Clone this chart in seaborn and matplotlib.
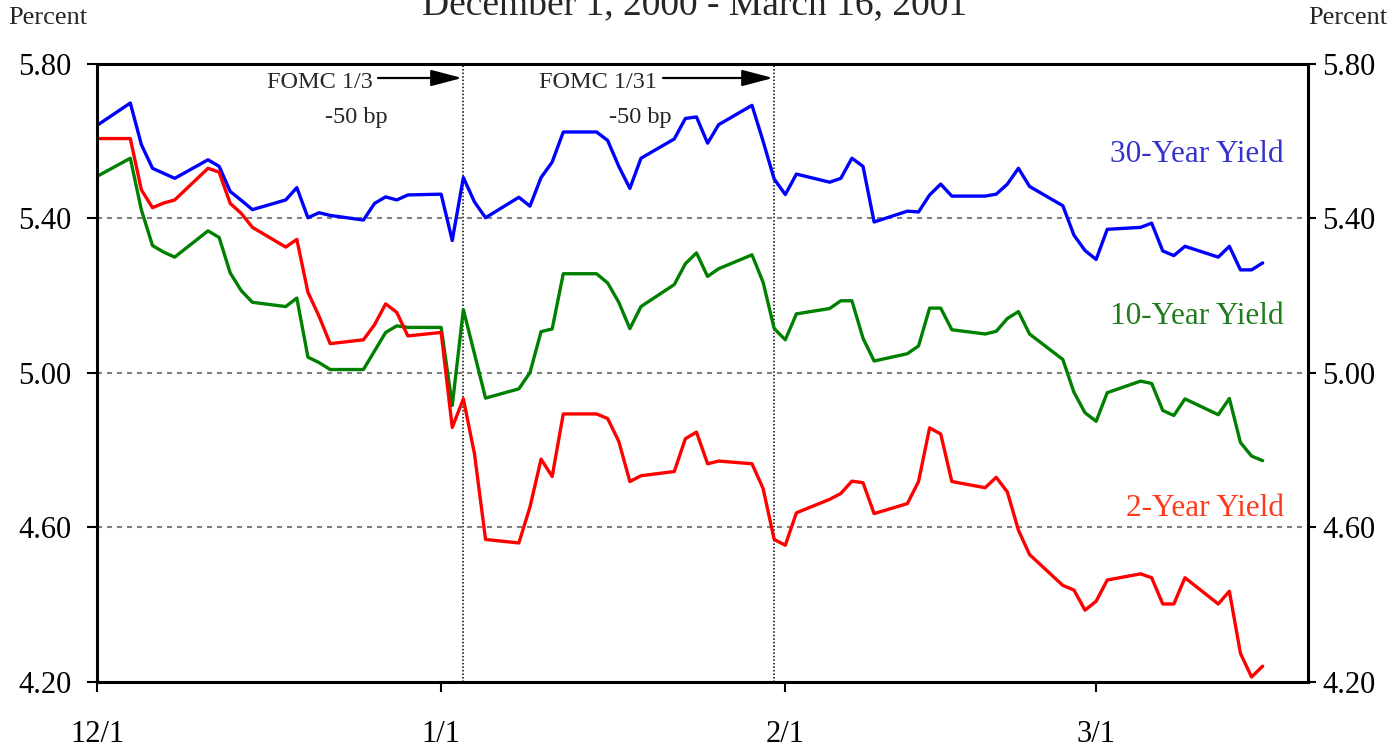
import numpy as np
import pandas as pd
import matplotlib
matplotlib.use("Agg")
import matplotlib.pyplot as plt
import seaborn as sns

# ---------------- data ----------------
dates = pd.bdate_range("2000-12-01", "2001-03-16")  # every weekday, holidays carried

yield_30y = [
    5.641, 5.699, 5.591, 5.530, 5.517, 5.504, 5.552, 5.535, 5.470, 5.447, 5.423,
    5.448, 5.480, 5.402, 5.415, 5.408, 5.396, 5.439, 5.456, 5.448, 5.461,
    5.463, 5.343, 5.506, 5.443, 5.402, 5.455, 5.432, 5.506, 5.546, 5.624,
    5.624, 5.602, 5.535, 5.478, 5.556, 5.606, 5.659, 5.663, 5.595, 5.643,
    5.693, 5.600, 5.502,
    5.462, 5.515, 5.494, 5.504, 5.556, 5.535, 5.391, 5.419, 5.417, 5.461,
    5.489, 5.458, 5.458, 5.463, 5.489, 5.530, 5.483, 5.433, 5.357, 5.317,
    5.294, 5.372, 5.377, 5.388, 5.316, 5.304, 5.328, 5.300, 5.328, 5.267,
    5.267, 5.285,
]
yield_10y = [
    5.509, 5.556, 5.422, 5.330, 5.313, 5.300, 5.368, 5.351, 5.259, 5.213, 5.183,
    5.172, 5.194, 5.041, 5.027, 5.009, 5.009, 5.057, 5.105, 5.122, 5.118,
    5.118, 4.916, 5.164, 5.050, 4.935, 4.959, 5.001, 5.107, 5.114, 5.257,
    5.257, 5.233, 5.183, 5.115, 5.172, 5.229, 5.283, 5.311, 5.250, 5.270,
    5.306, 5.235, 5.115,
    5.086, 5.153, 5.167, 5.187, 5.187, 5.090, 5.031, 5.050, 5.070, 5.168,
    5.168, 5.112, 5.101, 5.108, 5.141, 5.159, 5.101, 5.035, 4.950, 4.897,
    4.875, 4.949, 4.979, 4.973, 4.903, 4.890, 4.933, 4.892, 4.934, 4.820,
    4.785, 4.773,
]
yield_2y = [
    5.607, 5.607, 5.474, 5.428, 5.440, 5.448, 5.530, 5.520, 5.439, 5.413, 5.377,
    5.326, 5.346, 5.209, 5.147, 5.076, 5.086, 5.125, 5.179, 5.157, 5.096,
    5.105, 4.859, 4.933, 4.791, 4.569, 4.560, 4.653, 4.777, 4.732, 4.894,
    4.894, 4.882, 4.823, 4.719, 4.734, 4.745, 4.830, 4.847, 4.765, 4.772,
    4.765, 4.701, 4.569,
    4.554, 4.638, 4.673, 4.688, 4.720, 4.716, 4.636, 4.662, 4.719, 4.858,
    4.842, 4.719, 4.703, 4.730, 4.692, 4.593, 4.530, 4.450, 4.438, 4.386,
    4.409, 4.464, 4.480, 4.470, 4.402, 4.402, 4.470, 4.402, 4.435, 4.274,
    4.213, 4.241,
]

x_ticks = ["2000-12-01", "2001-01-01", "2001-02-01", "2001-03-01"]
x_tick_labels = ["12/1", "1/1", "2/1", "3/1"]
y_ticks = [4.20, 4.60, 5.00, 5.40, 5.80]
y_tick_labels = ["4.20", "4.60", "5.00", "5.40", "5.80"]
fomc_dates = ["2001-01-03", "2001-01-31"]
fomc_labels = ["FOMC 1/3", "FOMC 1/31"]
series_labels = ["30-Year Yield", "10-Year Yield", "2-Year Yield"]
title = "December 1, 2000 - March 16, 2001"

# ---------------- style ----------------
sns.set_style("white")
plt.rcParams["font.family"] = ["Liberation Serif", "DejaVu Serif"]

W, H = 1392, 752
fig = plt.figure(figsize=(W / 100, H / 100), dpi=100)
L, R, T, B = 97, 1308, 64, 682
ax = fig.add_axes([L / W, 1 - B / H, (R - L) / W, (B - T) / H])

df = pd.DataFrame({"date": dates, "y30": yield_30y, "y10": yield_10y, "y2": yield_2y})
line_colors = {"y30": "#0000FF", "y10": "#008000", "y2": "#FF0000"}
for col in ["y30", "y10", "y2"]:
    sns.lineplot(data=df, x="date", y=col, color=line_colors[col], lw=2.4, ax=ax, zorder=3)

ax.set_ylim(4.2, 5.8)
ax.set_xlim(pd.Timestamp("2000-12-01"), pd.Timestamp("2001-03-20 02:00"))
ax.set_xlabel("")
ax.set_ylabel("")

ax.set_yticks(y_ticks)
ax.set_yticklabels(y_tick_labels)
ax.set_xticks(pd.to_datetime(x_ticks))
ax.set_xticklabels(x_tick_labels)

ax.grid(axis="y", color="#808080", linestyle=(0, (2.4, 2.4)), lw=1.5)
ax.grid(axis="x", visible=False)

for d in fomc_dates:
    ax.axvline(pd.Timestamp(d), color="black", lw=1.1, linestyle=(0, (1, 1.3)), zorder=2)

for s in ax.spines.values():
    s.set_color("black")
    s.set_linewidth(2.2)
    s.set_zorder(5)

ax.tick_params(axis="y", direction="out", length=7.5, width=1.5, pad=11,
               labelsize=22, colors="black", left=True)
ax.tick_params(axis="x", direction="out", length=7.5, width=1.5, pad=20,
               labelsize=22, colors="black", bottom=True)

ax2 = ax.twinx()
ax2.set_ylim(ax.get_ylim())
ax2.set_yticks(y_ticks)
ax2.set_yticklabels(y_tick_labels)
ax2.tick_params(axis="y", direction="out", length=6, width=1.5, pad=4,
                labelsize=22, colors="black", right=True)
ax2.grid(False)
for s in ax2.spines.values():
    s.set_visible(False)

# ---------------- texts ----------------
def axf(px, py):
    return ((px - L) / (R - L), (B - py) / (B - T))

label_colors = ["#3333CC", "#1E7B1E", "#FF3A1A"]
label_y = [155, 317, 509]
for lab, c, py in zip(series_labels, label_colors, label_y):
    ax.text(*axf(1284, py), lab, transform=ax.transAxes, ha="right", va="center",
            fontsize=22.5, color=c)

fomc_text_x = [320, 598]
bp_text_x = [356, 640]
arrow_from = [378, 663]
arrow_to = [462, 773]
for lab, tx, bx, a0, a1 in zip(fomc_labels, fomc_text_x, bp_text_x, arrow_from, arrow_to):
    ax.text(*axf(tx, 82), lab, transform=ax.transAxes, ha="center", va="center", fontsize=17.5)
    ax.text(*axf(bx, 117), "-50 bp", transform=ax.transAxes, ha="center", va="center", fontsize=17.5)
    ax.annotate("", xy=axf(a1, 78), xytext=axf(a0, 78), xycoords="axes fraction",
                textcoords="axes fraction",
                arrowprops=dict(arrowstyle="-|>,head_length=0.95,head_width=0.25",
                                color="black", lw=1.6, mutation_scale=20, shrinkA=0, shrinkB=0))

fig.text(695 / W, 1 - 14 / H, title, ha="center", va="baseline", fontsize=27)
fig.text(48 / W, 1 - 18 / H, "Percent", ha="center", va="center", fontsize=19)
fig.text(1348 / W, 1 - 18 / H, "Percent", ha="center", va="center", fontsize=19)

fig.savefig("out.png", dpi=100, facecolor="white")
